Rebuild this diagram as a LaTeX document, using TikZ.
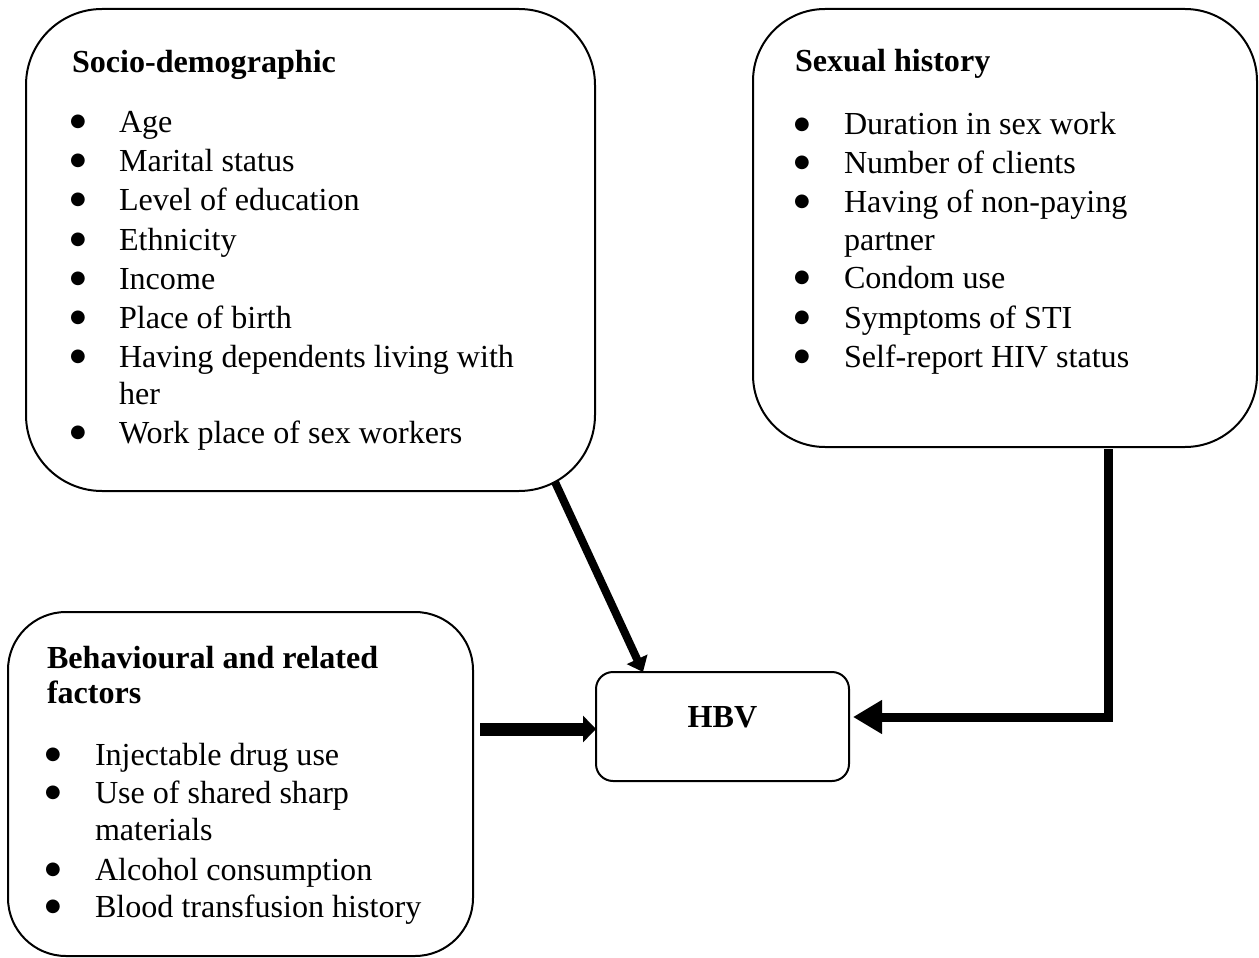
\documentclass[tikz,border=0pt]{standalone}
\usepackage{fontspec}
\setmainfont{Liberation Serif}
\newfontfamily\bulfont{DejaVu Sans}
\usetikzlibrary{arrows.meta}
\begin{document}
\begin{tikzpicture}[x=1pt,y=-1pt,
  box/.style={draw=black, line width=2pt, rounded corners=#1, inner sep=0pt, outer sep=0pt},
  txt/.style={anchor=base west, inner sep=0pt, outer sep=0pt, font=\fontsize{32.1}{38.8}\selectfont},
  ttl/.style={anchor=base west, inner sep=0pt, outer sep=0pt, font=\fontsize{32.1}{38.8}\selectfont\bfseries},
  bul/.style={anchor=base, inner sep=0pt, outer sep=0pt, font=\bulfont\fontsize{18}{18}\selectfont},
  conn/.style={draw=black, line join=miter, line cap=butt}
]
\useasboundingbox (0,0) rectangle (1259,958);

% boxes
\node[box=76pt, minimum width=569pt, minimum height=482pt] (socio) at (310.5,250) {};
\node[box=72pt, minimum width=504pt, minimum height=438pt] (sexual) at (1005,228) {};
\node[box=58pt, minimum width=465pt, minimum height=344pt] (behav) at (240.5,784) {};
\node[box=17pt, minimum width=253pt, minimum height=109pt] (hbv) at (722.5,726.5) {};

% HBV label
\node[anchor=base, inner sep=0pt, font=\fontsize{32.1}{38.8}\selectfont\bfseries] (hbvlabel) at (722.5,727) {HBV};

% Socio-demographic
\node[ttl] (st) at (72,73) {Socio-demographic};
\node[bul] (sb1) at (78,126.5) {●}; \node[txt] (s1) at (119,132) {Age};
\node[bul] (sb2) at (78,165.5) {●}; \node[txt] (s2) at (119,171) {Marital status};
\node[bul] (sb3) at (78,204.5) {●}; \node[txt] (s3) at (119,210) {Level of education};
\node[bul] (sb4) at (78,244.5) {●}; \node[txt] (s4) at (119,250) {Ethnicity};
\node[bul] (sb5) at (78,283.5) {●}; \node[txt] (s5) at (119,289) {Income};
\node[bul] (sb6) at (78,322.5) {●}; \node[txt] (s6) at (119,328) {Place of birth};
\node[bul] (sb7) at (78,361.5) {●}; \node[txt] (s7) at (119,367) {Having dependents living with};
\node[txt] (s7b) at (119,404) {her};
\node[bul] (sb8) at (78,437.5) {●}; \node[txt] (s8) at (119,443) {Work place of sex workers};

% Sexual history
\node[ttl] (xt) at (795,72) {Sexual history};
\node[bul] (xb1) at (802,129.5) {●}; \node[txt] (x1) at (844,135) {Duration in sex work};
\node[bul] (xb2) at (802,167.5) {●}; \node[txt] (x2) at (844,173) {Number of clients};
\node[bul] (xb3) at (802,206.5) {●}; \node[txt] (x3) at (844,212) {Having of non-paying};
\node[txt] (x3b) at (844,250) {partner};
\node[bul] (xb4) at (802,282.5) {●}; \node[txt] (x4) at (844,288) {Condom use};
\node[bul] (xb5) at (802,322.5) {●}; \node[txt] (x5) at (844,328) {Symptoms of STI};
\node[bul] (xb6) at (802,361.5) {●}; \node[txt] (x6) at (844,367) {Self-report HIV status};

% Behavioural
\node[ttl] (bt) at (47,668) {Behavioural and related};
\node[ttl] (bt2) at (47,703) {factors};
\node[bul] (bb1) at (53,759.5) {●}; \node[txt] (b1) at (95,765) {Injectable drug use};
\node[bul] (bb2) at (53,797.5) {●}; \node[txt] (b2) at (95,803) {Use of shared sharp};
\node[txt] (b2b) at (95,840) {materials};
\node[bul] (bb3) at (53,874.5) {●}; \node[txt] (b3) at (95,880) {Alcohol consumption};
\node[bul] (bb4) at (53,911.5) {●}; \node[txt] (b4) at (95,917) {Blood transfusion history};

% connector end points
\coordinate (sstart) at (555,482);
\coordinate (bstart) at (480,729);
\coordinate (xstart) at (1108,449);

% connectors
\draw[conn, line width=8pt, -{Triangle[length=14pt,width=22pt]}] (sstart) -- ([xshift=47pt]hbv.north west);
\draw[conn, line width=13pt, -{Triangle[length=13pt,width=26pt]}] (bstart) -- (bstart -| hbv.west);
\draw[conn, line width=9pt, -{Triangle[length=29pt,width=32pt]}] (xstart) |- ([shift={(4,-9.5)}]hbv.east);
\end{tikzpicture}
\end{document}
